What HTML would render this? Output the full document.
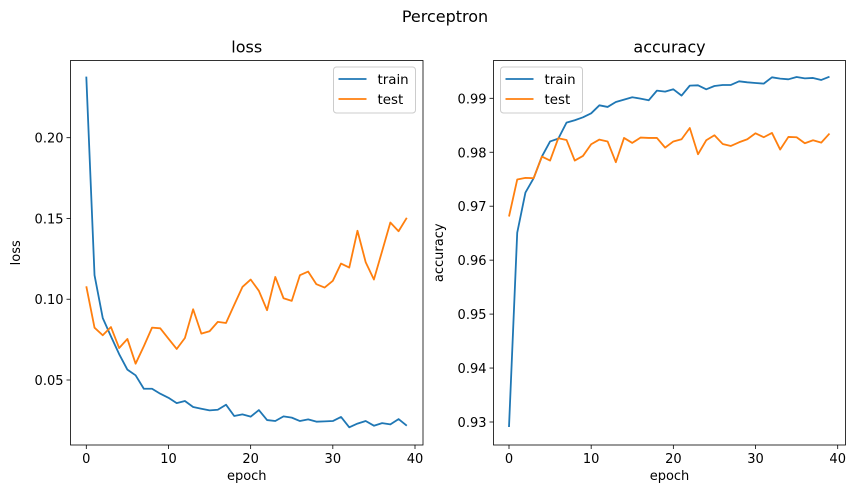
<!DOCTYPE html>
<html><head><meta charset="utf-8"><style>
html,body{margin:0;padding:0;background:#fff;}
svg{display:block;font-family:"DejaVu Sans","Liberation Sans",sans-serif;}
</style></head><body>
<svg id="fig" width="856" height="498" viewBox="0 0 856 498">
<text x="445" y="22" font-size="16" text-anchor="middle">Perceptron</text>
</svg>
<script>
const epochs = Array.from({length:40},(_, i)=>i);
const lossTrain = [0.2378,0.1149,0.0884,0.077,0.066,0.0564,0.0529,0.0446,0.0446,0.0415,0.039,0.0357,0.037,0.0333,0.0322,0.0312,0.0316,0.0347,0.0277,0.0287,0.0273,0.0314,0.0252,0.0246,0.0275,0.0267,0.0246,0.0256,0.0242,0.0244,0.0246,0.0271,0.0207,0.023,0.0246,0.0217,0.0233,0.0225,0.0258,0.0217];
const lossTest = [0.108,0.0824,0.0777,0.0828,0.0698,0.0754,0.0601,0.0709,0.0824,0.082,0.0756,0.0692,0.076,0.0938,0.0787,0.0802,0.086,0.0853,0.0965,0.1076,0.1122,0.1052,0.0932,0.1138,0.1006,0.099,0.1149,0.1171,0.1093,0.1072,0.1114,0.1221,0.1196,0.1424,0.1229,0.1122,0.1298,0.1475,0.1421,0.1504];
const accTrain = [0.92907,0.9651,0.97253,0.97519,0.9792,0.982,0.98253,0.98549,0.98593,0.98648,0.98722,0.9887,0.9884,0.98932,0.98975,0.99019,0.98994,0.98963,0.99142,0.99123,0.99167,0.9905,0.99235,0.99241,0.99167,0.99228,0.99247,0.99247,0.99315,0.99296,0.99284,0.99272,0.99389,0.99364,0.99352,0.99395,0.9937,0.99377,0.9934,0.99401];
const accTest = [0.96809,0.97494,0.97525,0.97519,0.9792,0.97846,0.9826,0.98228,0.97846,0.97932,0.98148,0.98235,0.982,0.97815,0.98265,0.98173,0.98272,0.98265,0.98265,0.98086,0.982,0.98241,0.9845,0.97963,0.98222,0.98315,0.98154,0.98117,0.98185,0.98241,0.98352,0.98278,0.98358,0.9805,0.98284,0.98278,0.98167,0.98222,0.98179,0.98346];
const xTicks = [0,10,20,30,40];
const lossTicks = [0.05,0.10,0.15,0.20];
const accTicks = [0.93,0.94,0.95,0.96,0.97,0.98,0.99];

const NS="http://www.w3.org/2000/svg";
const svg=document.getElementById('fig');
function mk(tag,attrs,parent){const e=document.createElementNS(NS,tag);for(const k in attrs)e.setAttribute(k,attrs[k]);(parent||svg).appendChild(e);return e;}

function panel(o){
  const g=mk('g',{});
  
  
  const sx=v=>o.x0px+(v-0)*(o.x40px-o.x0px)/40;
  const sy=v=>o.yApx+(v-o.yA)*(o.yBpx-o.yApx)/(o.yB-o.yA);
  const t=mk('text',{x:(o.L+o.R)/2,y:o.T-8,'font-size':16,'text-anchor':'middle'},g);t.textContent=o.title;
  
  
  xTicks.forEach(v=>{const x=sx(v);mk('line',{x1:x,x2:x,y1:o.B,y2:o.B+4,stroke:'#000','stroke-width':0.8},g);
    const tx=mk('text',{x:x,y:o.B+18,'font-size':13,'text-anchor':'middle'},g);tx.textContent=v;
    
    });
  o.yTicks.forEach(v=>{const y=sy(v);mk('line',{x1:o.L-4,x2:o.L,y1:y,y2:y,stroke:'#000','stroke-width':0.8},g);
    const ty=mk('text',{x:o.L-7,y:y+5,'font-size':13,'text-anchor':'end'},g);ty.textContent=v.toFixed(2);
    
    });
  const xl=mk('text',{x:(o.L+o.R)/2,y:o.B+35,'font-size':13,'text-anchor':'middle'},g);xl.textContent='epoch';
  
  
  const yl=mk('text',{x:0,y:0,'font-size':13,'text-anchor':'middle',transform:`translate(${o.ylx},${(o.T+o.B)/2}) rotate(-90)`},g);yl.textContent=o.ylabel;
  
  
  [[o.train,'#1f77b4','train-line'],[o.test,'#ff7f0e','test-line']].forEach(([arr,c,n])=>{
    const p=mk('polyline',{points:arr.map((v,i)=>sx(epochs[i]).toFixed(2)+','+sy(v).toFixed(2)).join(' '),fill:'none',stroke:c,'stroke-width':1.8,'stroke-linejoin':'round'},g);
    
    
  });
  mk('rect',{x:o.L,y:o.T,width:o.R-o.L,height:o.B-o.T,fill:'none',stroke:'#000','stroke-width':0.8},g);
  const lg=mk('g',{},g);
  
  
  mk('rect',{x:o.lgx,y:67,width:82,height:46,rx:3,fill:'#fff','fill-opacity':0.8,stroke:'#ccc','stroke-width':1},lg);
  [['train','#1f77b4',79],['test','#ff7f0e',99]].forEach(([n,c,y])=>{
    const e=mk('g',{},lg);
    
    
    mk('line',{x1:o.lgx+5,x2:o.lgx+33,y1:y,y2:y,stroke:c,'stroke-width':1.8},e);
    const tt=mk('text',{x:o.lgx+44,y:y+5,'font-size':13.4},e);tt.textContent=n;
  });
}
panel({name:'loss-panel',title:'loss',ylabel:'loss',L:70.5,R:423,T:60.5,B:445,x0px:86.3,x40px:415,yA:0.05,yApx:380,yB:0.20,yBpx:137.7,yTicks:lossTicks,train:lossTrain,test:lossTest,ylx:20,lgx:333.5});
panel({name:'accuracy-panel',title:'accuracy',ylabel:'accuracy',L:493.5,R:845.5,T:60.5,B:445,x0px:509,x40px:837.7,yA:0.93,yApx:422,yB:0.99,yBpx:98.3,yTicks:accTicks,train:accTrain,test:accTest,ylx:443,lgx:500.5});
</script>
</body></html>
